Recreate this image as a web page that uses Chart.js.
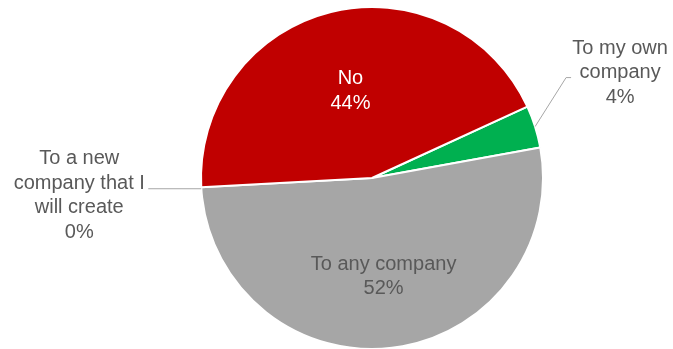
<!DOCTYPE html>
<html>
<head>
<meta charset="utf-8">
<script src="https://cdn.jsdelivr.net/npm/chart.js@4/dist/chart.umd.min.js"></script>
<style>
  html, body { margin: 0; padding: 0; background: #ffffff; }
  #wrap { width: 673px; height: 349px; position: relative; }
</style>
</head>
<body>
<div id="wrap"><canvas id="c" width="673" height="349"></canvas></div>
<script>
// ---- data ----
const categories = ["To my own company", "To any company", "To a new company that I will create", "No"];
const labelLines = [["To my own", "company"], ["To any company"], ["To a new", "company that I", "will create"], ["No"]];
const values = [4, 52, 0, 44];
const colors = ["#00B050", "#A6A6A6", "#A6A6A6", "#C00000"];
const textColors = ["#595959", "#595959", "#595959", "#FFFFFF"];

const FONT = '20px "Liberation Sans", Arial, sans-serif';
const LINE_H = 24.5;

const labelPlugin = {
  id: 'pieLabels',
  afterDatasetsDraw(chart) {
    const ctx = chart.ctx;
    const meta = chart.getDatasetMeta(0);
    const total = values.reduce((a, b) => a + b, 0);
    const insideFactor = { 1: 0.58, 3: 0.525 };
    ctx.save();
    ctx.font = FONT;
    ctx.textAlign = 'center';
    ctx.textBaseline = 'middle';
    meta.data.forEach((arc, i) => {
      const p = arc.getProps(['x', 'y', 'startAngle', 'endAngle', 'outerRadius'], true);
      const mid = (p.startAngle + p.endAngle) / 2;
      const r = p.outerRadius;
      const pct = Math.round(values[i] / total * 100) + '%';
      const lines = labelLines[i].concat([pct]);
      ctx.fillStyle = textColors[i];
      if (i === 1 || i === 3) {
        const d = r * insideFactor[i];
        const cx = p.x + Math.cos(mid) * d;
        const cy = p.y + Math.sin(mid) * d;
        const n = lines.length;
        lines.forEach((t, k) => ctx.fillText(t, cx, cy + (k - (n - 1) / 2) * LINE_H));
      } else if (i === 0) {
        const ex = p.x + Math.cos(mid) * r;
        const ey = p.y + Math.sin(mid) * r;
        const kx = ex + 31, ky = ey - 49;
        ctx.strokeStyle = '#A6A6A6';
        ctx.lineWidth = 1;
        ctx.beginPath();
        ctx.moveTo(ex, ey);
        ctx.lineTo(kx, ky);
        ctx.lineTo(kx + 5, ky);
        ctx.stroke();
        const cx = kx + 54, cy = ky - 5;
        const n = lines.length;
        lines.forEach((t, k) => ctx.fillText(t, cx, cy + (k - (n - 1) / 2) * LINE_H));
      } else if (i === 2) {
        const a = p.startAngle;
        const ex = p.x + Math.cos(a) * r;
        const ey = p.y + Math.sin(a) * r + 1.5;
        const kx = ex - 53;
        ctx.strokeStyle = '#A6A6A6';
        ctx.lineWidth = 1;
        ctx.beginPath();
        ctx.moveTo(ex, ey);
        ctx.lineTo(kx, ey);
        ctx.stroke();
        const cx = kx - 69, cy = ey + 6.5;
        const n = lines.length;
        lines.forEach((t, k) => ctx.fillText(t, cx, cy + (k - (n - 1) / 2) * LINE_H));
      }
    });
    ctx.restore();
  }
};

new Chart(document.getElementById('c'), {
  type: 'pie',
  data: {
    labels: categories,
    datasets: [{
      data: values,
      backgroundColor: colors,
      borderColor: '#FFFFFF',
      borderWidth: 2
    }]
  },
  options: {
    responsive: false,
    animation: false,
    rotation: 65.3,
    radius: 171,
    layout: { padding: { top: 7, bottom: 0, left: 201, right: 130 } },
    plugins: {
      legend: { display: false },
      tooltip: { enabled: false }
    }
  },
  plugins: [labelPlugin]
});
</script>
</body>
</html>
